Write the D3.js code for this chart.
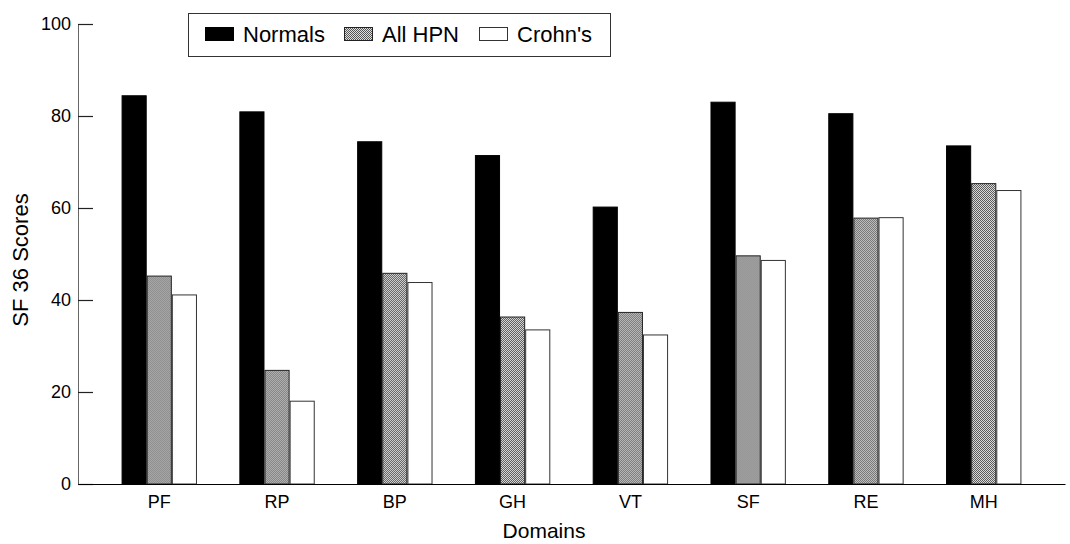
<!DOCTYPE html>
<html>
<head>
<meta charset="utf-8">
<script src="https://cdn.jsdelivr.net/npm/d3@7"></script>
<style>
  body { margin: 0; background: #fff; }
  svg { display: block; font-family: "Liberation Sans", Arial, Helvetica, sans-serif; }
</style>
</head>
<body>
<svg id="chart" width="1070" height="544"></svg>
<script>
const categories = ["PF", "RP", "BP", "GH", "VT", "SF", "RE", "MH"];
const seriesNames = ["Normals", "All HPN", "Crohn's"];
const normals = [84.4, 80.9, 74.4, 71.4, 60.2, 83.0, 80.5, 73.5];
const allHPN  = [45.2, 24.7, 45.8, 36.3, 37.3, 49.6, 57.8, 65.3];
const crohns  = [41.1, 18.0, 43.8, 33.5, 32.4, 48.6, 57.9, 63.8];
const yTicks = [0, 20, 40, 60, 80, 100];

const seriesValues = [normals, allHPN, crohns];

const svg = d3.select("#chart");
const defs = svg.append("defs");
const pat = defs.append("pattern")
  .attr("id", "dots").attr("patternUnits", "userSpaceOnUse")
  .attr("width", 2).attr("height", 2);
pat.append("rect").attr("width", 2).attr("height", 2).attr("fill", "#e0e0e0");
pat.append("rect").attr("x", 0).attr("y", 0).attr("width", 1).attr("height", 1).attr("fill", "#555");
pat.append("rect").attr("x", 1).attr("y", 1).attr("width", 1).attr("height", 1).attr("fill", "#555");

const fills = ["#000", "url(#dots)", "#fff"];
const strokes = ["#000", "#222", "#333"];

const x0 = 78, x1 = 1065, yTop = 24, yBot = 484;

const x = d3.scaleBand().domain(categories).range([x0, x1]).paddingInner(0.36).paddingOuter(0.37);
const xs = d3.scaleBand().domain(seriesNames).range([0, x.bandwidth()]);
const y = d3.scaleLinear().domain([0, 100]).range([yBot, yTop]);

// y axis
const yAxis = d3.axisRight(y).tickValues(yTicks).tickSize(15).tickFormat("");
const yg = svg.append("g").attr("transform", `translate(${x0},0)`).call(yAxis);
yg.select(".domain").attr("stroke", "#666").attr("stroke-width", 1);
yg.selectAll(".tick line").attr("stroke", "#222").attr("stroke-width", 1.2);
svg.append("g").selectAll("text").data(yTicks).join("text")
  .attr("x", 71).attr("y", d => y(d)).attr("dy", "0.36em")
  .attr("text-anchor", "end").attr("font-size", 18).attr("fill", "#000")
  .text(d => d);

// bars
const groups = svg.append("g").selectAll("g").data(categories).join("g")
  .attr("transform", d => `translate(${x(d)},0)`);
seriesNames.forEach((s, si) => {
  groups.append("rect")
    .attr("x", xs(s) + 0.5)
    .attr("y", (d, i) => y(seriesValues[si][i]))
    .attr("width", xs.bandwidth() - 1)
    .attr("height", (d, i) => yBot - y(seriesValues[si][i]))
    .attr("fill", fills[si])
    .attr("stroke", strokes[si])
    .attr("stroke-width", 1);
});

// x axis
const xAxis = d3.axisBottom(x).tickSize(0).tickPadding(11);
const xg = svg.append("g").attr("transform", `translate(0,${yBot})`).call(xAxis);
xg.select(".domain").attr("stroke", "#000").attr("stroke-width", 1.2);
xg.selectAll(".tick text").attr("font-size", 18).attr("fill", "#000")
  .attr("font-family", "Liberation Sans, Arial, sans-serif");

// axis titles
svg.append("text").attr("x", 544).attr("y", 538).attr("text-anchor", "middle")
  .attr("font-size", 21).text("Domains");
svg.append("text").attr("transform", "translate(28,260) rotate(-90)")
  .attr("text-anchor", "middle").attr("font-size", 22).text("SF 36 Scores");

// legend
const lg = svg.append("g");
lg.append("rect").attr("x", 188.5).attr("y", 13.5).attr("width", 422).attr("height", 43)
  .attr("fill", "#fff").attr("stroke", "#333").attr("stroke-width", 1);
const legX = [205, 344, 479];
seriesNames.forEach((s, si) => {
  lg.append("rect").attr("x", legX[si] + 0.5).attr("y", 27.5).attr("width", 28).attr("height", 13)
    .attr("fill", fills[si]).attr("stroke", strokes[si]).attr("stroke-width", 1);
  lg.append("text").attr("x", legX[si] + 38).attr("y", 41.5).attr("font-size", 22)
    .attr("fill", "#000").text(s);
});
</script>
</body>
</html>
